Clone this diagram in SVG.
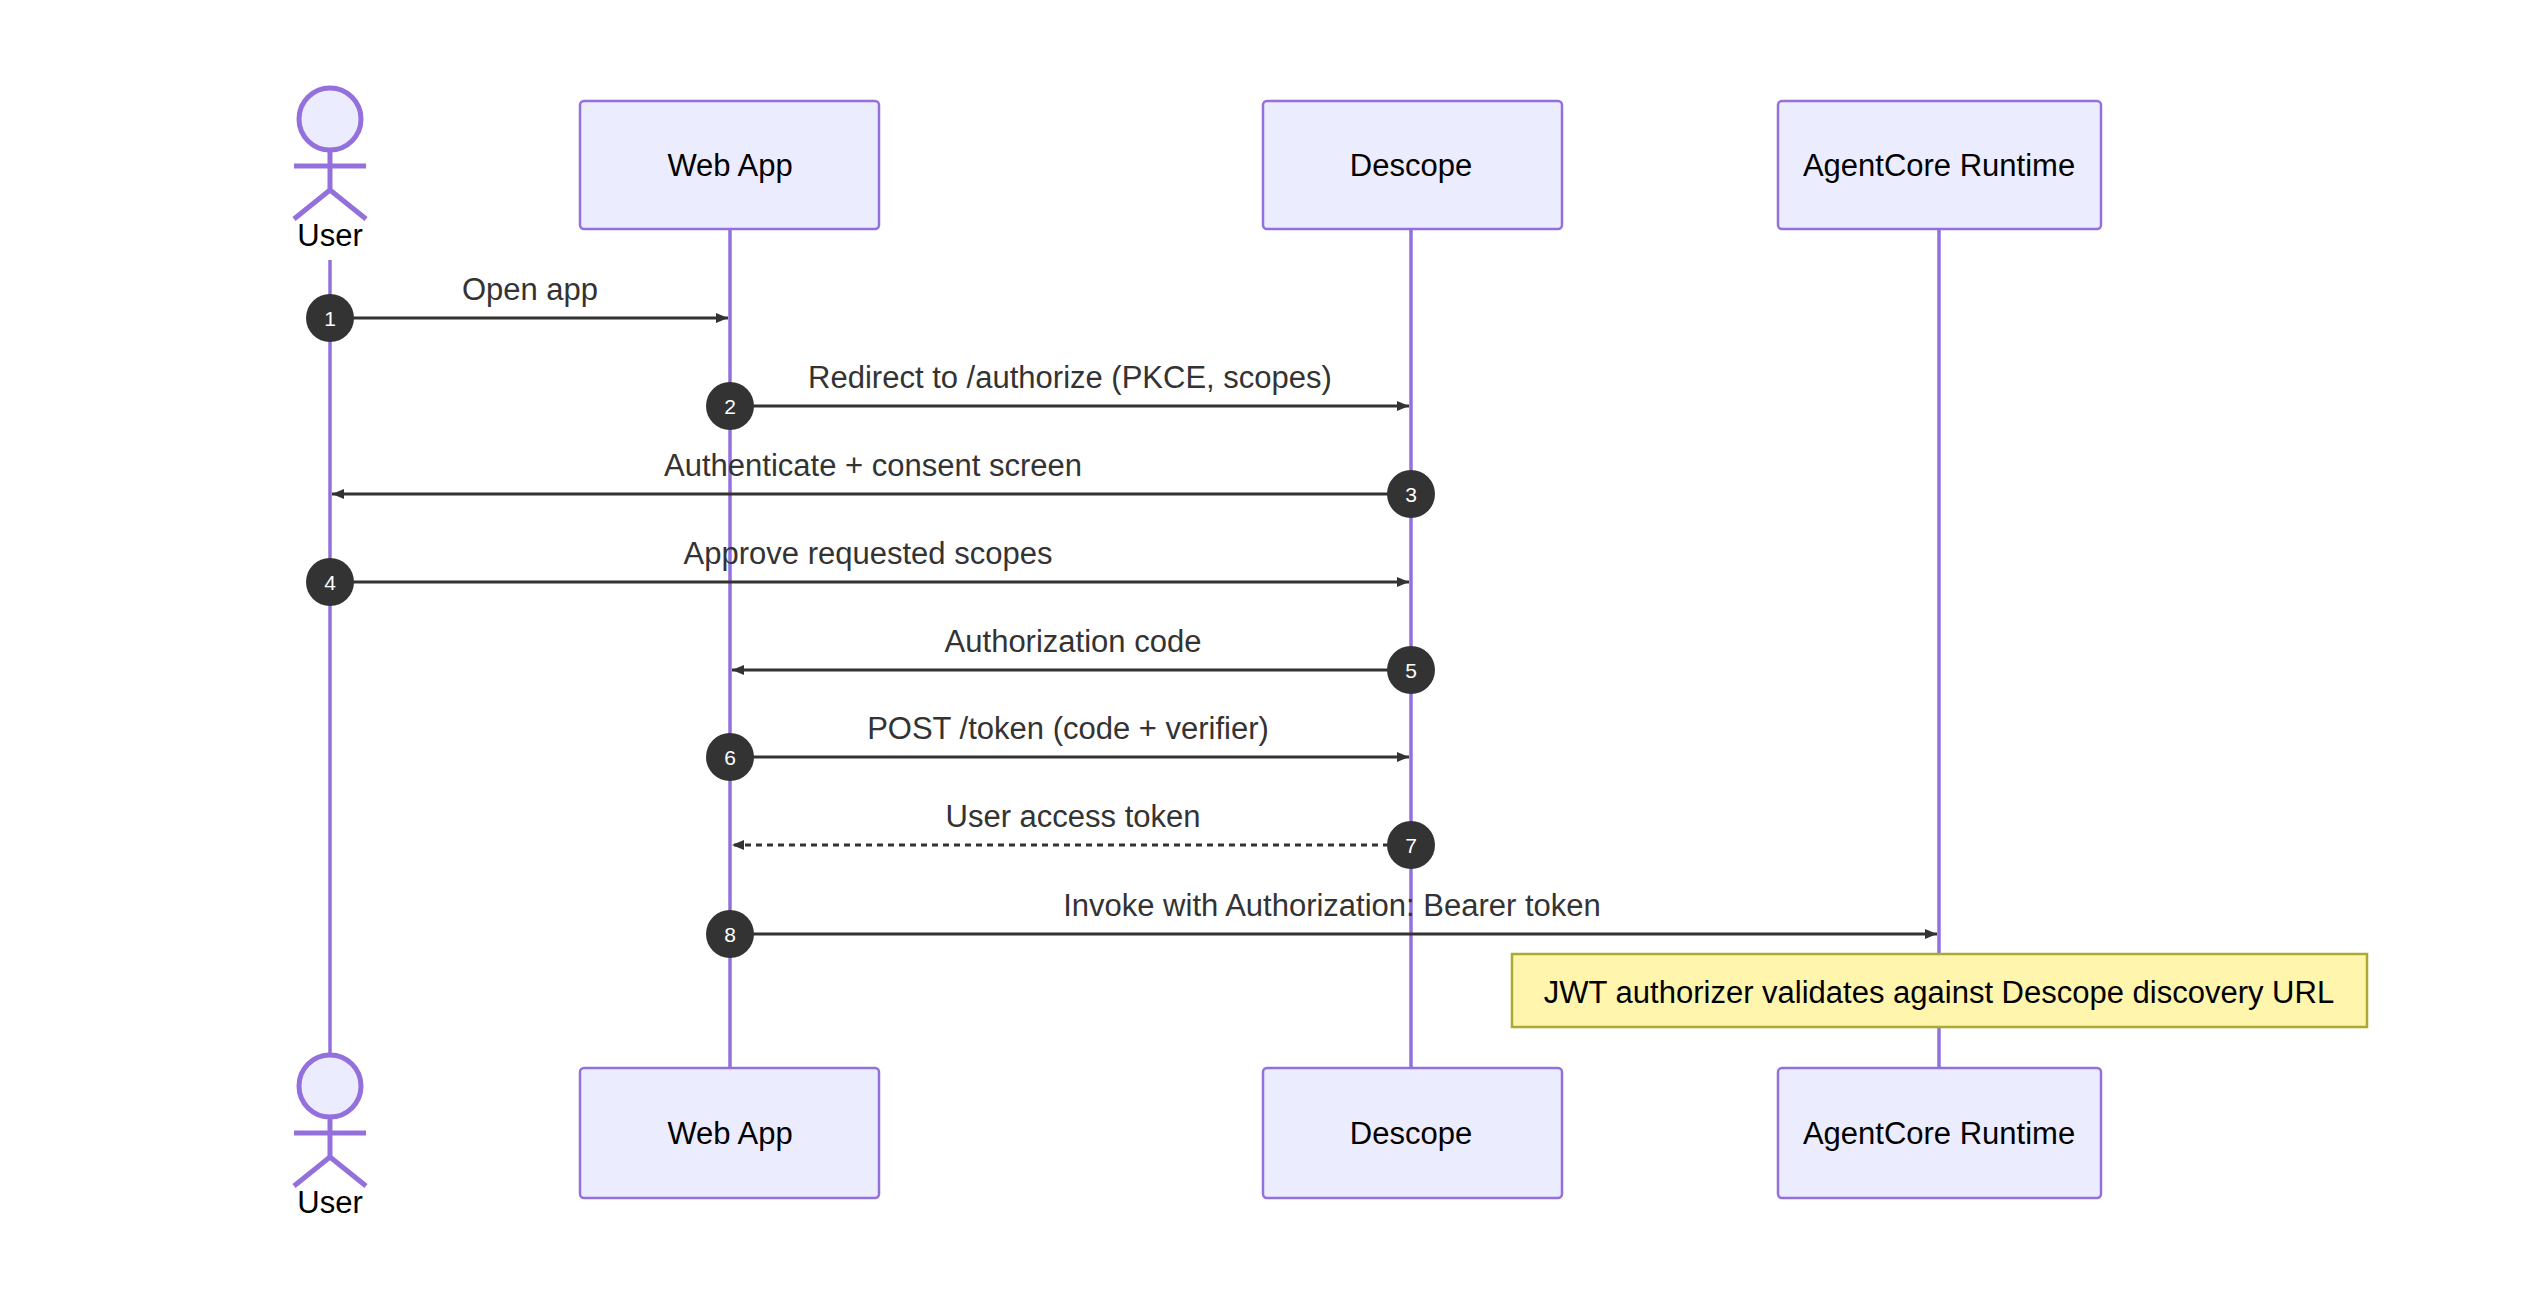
<svg xmlns="http://www.w3.org/2000/svg" width="2548" height="1300" viewBox="0 0 2548 1300">
<defs>
<marker id="ah" viewBox="0 0 12 10" refX="12" refY="5" markerWidth="12" markerHeight="10" markerUnits="userSpaceOnUse" orient="auto"><path d="M0,0 L12,5 L0,10 z" fill="#333"/></marker>
<style>
.box{fill:#ECECFF;stroke:#9370DB;stroke-width:2.5}
.life{stroke:#9370DB;stroke-width:3.5}
.act{fill:#ECECFF;stroke:#9370DB;stroke-width:5}
.actl{stroke:#9370DB;stroke-width:5;fill:none}
.t{font-family:"Liberation Sans",Arial,sans-serif;font-size:31px;text-anchor:middle;fill:#000}
.ml{font-family:"Liberation Sans",Arial,sans-serif;font-size:31px;text-anchor:middle;fill:#333}
.msg{stroke:#333;stroke-width:3;fill:none;marker-end:url(#ah)}
.b{fill:#333}
.bt{font-family:"Liberation Sans",Arial,sans-serif;font-size:21px;text-anchor:middle;fill:#fff}
</style>
</defs>
<rect width="2548" height="1300" fill="#fff"/>
<g id="lifelines">
<line class="life" x1="330" y1="260" x2="330" y2="1056"/>
<line class="life" x1="730" y1="229" x2="730" y2="1068"/>
<line class="life" x1="1411" y1="229" x2="1411" y2="1068"/>
<line class="life" x1="1939" y1="229" x2="1939" y2="1068"/>
</g>
<g id="user-top"><circle class="act" cx="330" cy="119" r="31"/><line class="actl" x1="330" y1="150" x2="330" y2="190"/><line class="actl" x1="294" y1="166" x2="366" y2="166"/><polyline class="actl" points="294,219 330,190 366,219"/><text class="t" x="330" y="246">User</text></g>
<g id="webapp-top"><rect class="box" x="580" y="101" width="299" height="128" rx="4"/><text class="t" x="730" y="176">Web App</text></g>
<g id="descope-top"><rect class="box" x="1263" y="101" width="299" height="128" rx="4"/><text class="t" x="1411" y="176">Descope</text></g>
<g id="agentcore-top"><rect class="box" x="1778" y="101" width="323" height="128" rx="4"/><text class="t" x="1939" y="176">AgentCore Runtime</text></g>
<g id="user-bottom"><circle class="act" cx="330" cy="1086" r="31"/><line class="actl" x1="330" y1="1117" x2="330" y2="1157"/><line class="actl" x1="294" y1="1133" x2="366" y2="1133"/><polyline class="actl" points="294,1186 330,1157 366,1186"/><text class="t" x="330" y="1213">User</text></g>
<g id="webapp-bottom"><rect class="box" x="580" y="1068" width="299" height="130" rx="4"/><text class="t" x="730" y="1144">Web App</text></g>
<g id="descope-bottom"><rect class="box" x="1263" y="1068" width="299" height="130" rx="4"/><text class="t" x="1411" y="1144">Descope</text></g>
<g id="agentcore-bottom"><rect class="box" x="1778" y="1068" width="323" height="130" rx="4"/><text class="t" x="1939" y="1144">AgentCore Runtime</text></g>
<g id="connectors">
<line class="msg" x1="330" y1="318" x2="728" y2="318"/><text class="ml" x="530" y="300">Open app</text>
<line class="msg" x1="730" y1="406" x2="1409" y2="406"/><text class="ml" x="1070" y="388">Redirect to /authorize (PKCE, scopes)</text>
<line class="msg" x1="1411" y1="494" x2="332" y2="494"/><text class="ml" x="873" y="476">Authenticate + consent screen</text>
<line class="msg" x1="330" y1="582" x2="1409" y2="582"/><text class="ml" x="868" y="564">Approve requested scopes</text>
<line class="msg" x1="1411" y1="670" x2="732" y2="670"/><text class="ml" x="1073" y="652">Authorization code</text>
<line class="msg" x1="730" y1="757" x2="1409" y2="757"/><text class="ml" x="1068" y="739">POST /token (code + verifier)</text>
<line class="msg" x1="1411" y1="845" x2="732" y2="845" stroke-dasharray="6,5"/><text class="ml" x="1073" y="827">User access token</text>
<line class="msg" x1="730" y1="934" x2="1937" y2="934"/><text class="ml" x="1332" y="916">Invoke with Authorization: Bearer token</text>
</g>
<g id="badges">
<circle class="b" cx="330" cy="318" r="24"/><text class="bt" x="330" y="326">1</text>
<circle class="b" cx="730" cy="406" r="24"/><text class="bt" x="730" y="414">2</text>
<circle class="b" cx="1411" cy="494" r="24"/><text class="bt" x="1411" y="502">3</text>
<circle class="b" cx="330" cy="582" r="24"/><text class="bt" x="330" y="590">4</text>
<circle class="b" cx="1411" cy="670" r="24"/><text class="bt" x="1411" y="678">5</text>
<circle class="b" cx="730" cy="757" r="24"/><text class="bt" x="730" y="765">6</text>
<circle class="b" cx="1411" cy="845" r="24"/><text class="bt" x="1411" y="853">7</text>
<circle class="b" cx="730" cy="934" r="24"/><text class="bt" x="730" y="942">8</text>
</g>
<g id="note"><rect x="1512" y="954" width="855" height="73" fill="#fff5ad" stroke="#aaaa33" stroke-width="2.5"/><text class="t" x="1939" y="1003">JWT authorizer validates against Descope discovery URL</text></g>
</svg>
